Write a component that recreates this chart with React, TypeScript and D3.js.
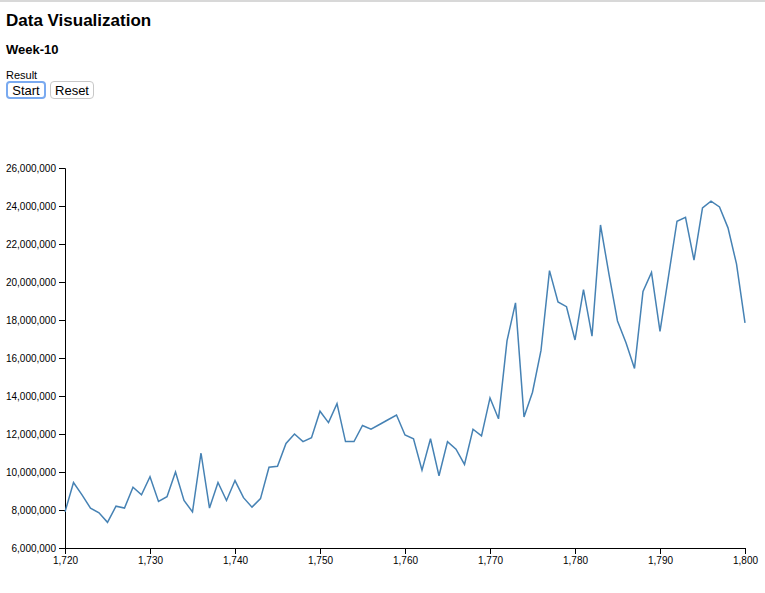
import React, { useEffect, useRef } from 'react';
import * as d3 from 'd3';

const years: number[] = d3.range(1720, 1801);
const values: number[] = [
  7.9, 9.45, 8.8, 8.1, 7.85, 7.35, 8.2, 8.1, 9.2, 8.8,
  9.75, 8.45, 8.7, 10.0, 8.5, 7.9, 11.0, 8.1, 9.45, 8.5,
  9.55, 8.65, 8.15, 8.6, 10.25, 10.3, 11.5, 12.0, 11.6, 11.8,
  13.2, 12.6, 13.6, 11.6, 11.6, 12.45, 12.25, 12.5, 12.75, 13.0,
  11.95, 11.75, 10.1, 11.75, 9.8, 11.6, 11.2, 10.4, 12.25, 11.9,
  13.9, 12.8, 16.9, 18.9, 12.9, 14.2, 16.4, 20.6, 18.95, 18.7,
  16.95, 19.6, 17.15, 23.0, 20.4, 17.95, 16.8, 15.45, 19.5, 20.5,
  17.4, 20.3, 23.2, 23.4, 21.15, 23.9, 24.25, 23.95, 22.85, 20.95,
  17.85,
].map(v => v * 1e6);

const App: React.FC = () => {
  const svgRef = useRef<SVGSVGElement | null>(null);

  useEffect(() => {
    if (!svgRef.current) return;
    const svg = d3.select(svgRef.current);
    svg.selectAll('*').remove();
    const margin = { top: 168, left: 65, right: 20, bottom: 45 };
    const width = 765, height = 593;

    const x = d3.scaleLinear().domain([1720, 1800]).range([margin.left, width - margin.right]);
    const y = d3.scaleLinear().domain([6e6, 26e6]).range([height - margin.bottom, margin.top]);

    svg.append('g')
      .attr('transform', `translate(0,${height - margin.bottom})`)
      .call(d3.axisBottom(x).ticks(8).tickFormat(d3.format(',')));
    svg.append('g')
      .attr('transform', `translate(${margin.left},0)`)
      .call(d3.axisLeft(y).ticks(10).tickFormat(d3.format(',')));

    const line = d3.line<number>().x((_, i) => x(years[i])).y(d => y(d));
    svg.append('path')
      .datum(values)
      .attr('fill', 'none')
      .attr('stroke', 'steelblue')
      .attr('stroke-width', 1.5)
      .attr('d', line);
  }, []);

  const btn: React.CSSProperties = {
    position: 'absolute', top: 81, height: 18, fontSize: 13, fontFamily: 'Liberation Sans, Arial, sans-serif',
    background: '#fff', border: '1px solid #c8c8c8', borderRadius: 4, padding: 0,
  };

  return (
    <div style={{ position: 'fixed', left: 0, top: 0, width: 765, height: 593, background: '#fff', fontFamily: 'Liberation Sans, Arial, sans-serif' }}>
      <div style={{ position: 'absolute', left: 0, top: 0, width: 765, height: 2, background: '#d8d8d8' }} />
      <div style={{ position: 'absolute', left: 6, top: 11, fontSize: 17, fontWeight: 'bold' }}>Data Visualization</div>
      <div style={{ position: 'absolute', left: 6, top: 42, fontSize: 13, fontWeight: 'bold' }}>Week-10</div>
      <div style={{ position: 'absolute', left: 6, top: 69, fontSize: 11 }}>Result</div>
      <button style={{ ...btn, left: 6, width: 40, border: '2px solid #7aaaf0' }}>Start</button>
      <button style={{ ...btn, left: 50, width: 44 }}>Reset</button>
      <svg ref={svgRef} width={765} height={593} style={{ position: 'absolute', left: 0, top: 0 }} />
    </div>
  );
};

export default App;
